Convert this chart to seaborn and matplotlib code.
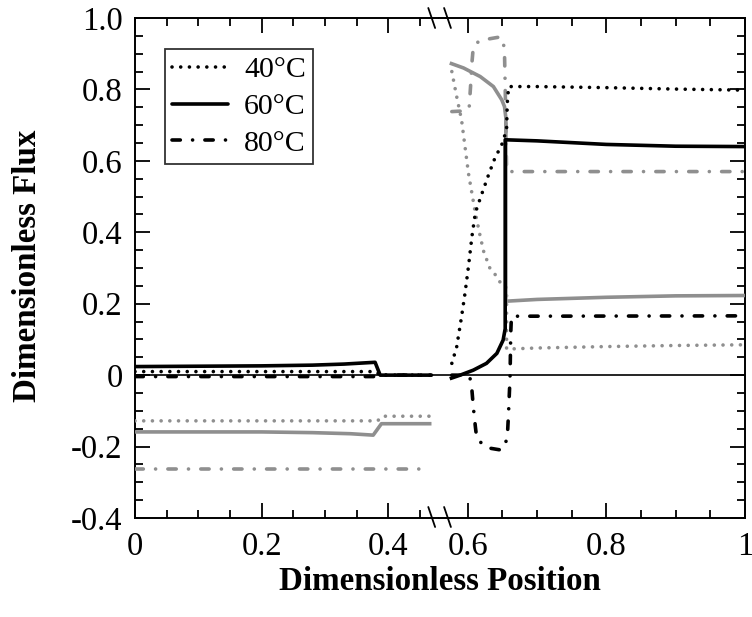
import numpy as np
import pandas as pd
import matplotlib
matplotlib.use("Agg")
import matplotlib.pyplot as plt
from matplotlib.ticker import MultipleLocator, FixedLocator, FixedFormatter
from matplotlib.lines import Line2D
import seaborn as sns

# ---------------- data ----------------
temps = ["40°C", "60°C", "80°C"]

# left segment (0 .. 0.47)
L40_black_x = [0.0, 0.380, 0.387, 0.468]
L40_black_y = [0.010, 0.010, 0.0, 0.0]
L60_black_x = [0.0, 0.10, 0.20, 0.28, 0.33, 0.379, 0.387, 0.468]
L60_black_y = [0.024, 0.025, 0.026, 0.028, 0.031, 0.036, 0.0, 0.0]
L80_black_x = [0.0, 0.380, 0.387, 0.468]
L80_black_y = [-0.004, -0.004, 0.0, 0.0]

L40_gray_x = [0.0, 0.383, 0.390, 0.468]
L40_gray_y = [-0.128, -0.128, -0.115, -0.115]
L60_gray_x = [0.0, 0.20, 0.28, 0.34, 0.376, 0.389, 0.468]
L60_gray_y = [-0.159, -0.159, -0.161, -0.164, -0.168, -0.136, -0.136]
L80_gray_x = [0.0, 0.468]
L80_gray_y = [-0.262, -0.262]

# right segment (0.56 .. 1)
R40_black_x = [0.577, 0.584, 0.591, 0.596, 0.601, 0.606, 0.611, 0.618, 0.630, 0.639,
               0.649, 0.656, 0.657, 0.659, 0.70, 0.80, 0.90, 1.0]
R40_black_y = [0.033, 0.079, 0.163, 0.229, 0.304, 0.388, 0.455, 0.495, 0.561, 0.607,
               0.645, 0.687, 0.762, 0.808, 0.808, 0.805, 0.801, 0.798]
R60_black_x = [0.574, 0.589, 0.608, 0.627, 0.642, 0.651, 0.654, 0.654, 0.70, 0.75,
               0.80, 0.90, 1.0]
R60_black_y = [-0.010, 0.0, 0.014, 0.033, 0.061, 0.098, 0.13, 0.659, 0.656, 0.651,
               0.646, 0.641, 0.640]
R80_black_x = [0.577, 0.600, 0.603, 0.606, 0.608, 0.611, 0.613, 0.627, 0.649, 0.657,
               0.659, 0.661, 0.662, 0.663, 1.0]
R80_black_y = [0.0, 0.0, -0.005, -0.042, -0.089, -0.145, -0.178, -0.203, -0.210, -0.178,
               -0.098, -0.005, 0.117, 0.165, 0.166]

R40_gray_x = [0.577, 0.584, 0.591, 0.596, 0.601, 0.606, 0.611, 0.613, 0.618, 0.623,
              0.632, 0.642, 0.649, 0.656, 0.656, 0.70, 0.80, 0.90, 1.0]
R40_gray_y = [0.850, 0.780, 0.715, 0.640, 0.565, 0.509, 0.453, 0.435, 0.388, 0.346,
              0.299, 0.276, 0.252, 0.245, 0.073, 0.076, 0.080, 0.083, 0.085]
R60_gray_x = [0.574, 0.594, 0.618, 0.637, 0.649, 0.653, 0.655, 0.655, 0.70, 0.80,
              0.90, 1.0]
R60_gray_y = [0.874, 0.860, 0.836, 0.808, 0.771, 0.752, 0.72, 0.207, 0.212, 0.218,
              0.222, 0.223]
R80_gray_x = [0.577, 0.598, 0.602, 0.604, 0.606, 0.608, 0.615, 0.623, 0.635, 0.647,
              0.651, 0.653, 0.654, 0.656, 0.70, 0.80, 0.90, 1.0]
R80_gray_y = [0.738, 0.740, 0.748, 0.808, 0.874, 0.920, 0.933, 0.939, 0.943, 0.947,
              0.939, 0.902, 0.808, 0.570, 0.570, 0.570, 0.570, 0.570]

xticks_left = [0.0, 0.2, 0.4]
xticks_left_labels = ["0", "0.2", "0.4"]
xticks_right = [0.6, 0.8, 1.0]
xticks_right_labels = ["0.6", "0.8", "1"]
yticks = [-0.4, -0.2, 0.0, 0.2, 0.4, 0.6, 0.8, 1.0]
yticks_labels = ["-0.4", "-0.2", "0", "0.2", "0.4", "0.6", "0.8", "1.0"]

# ---------------- style ----------------
sns.set_style("ticks")
plt.rcParams["font.family"] = ["Liberation Serif", "DejaVu Serif"]
plt.rcParams.update({
    "axes.linewidth": 1.4,
    "text.color": "black",
    "axes.labelcolor": "black",
    "axes.edgecolor": "black",
    "xtick.color": "black",
    "ytick.color": "black",
})

W, H = 752, 617
fig = plt.figure(figsize=(W / 100, H / 100), dpi=100)

px_left, px_break, px_right = 135, 439, 745
px_top, px_bottom = 18, 518
fy0 = (H - px_bottom) / H
fh = (px_bottom - px_top) / H
ax1 = fig.add_axes([px_left / W, fy0, (px_break - px_left) / W, fh])
ax2 = fig.add_axes([px_break / W, fy0, (px_right - px_break) / W, fh], sharey=ax1)

GRAY = "#8f8f8f"
LW = 2.6
DOT = (0, (0.01, 2.4))
DASHDOT = (0, (2.3, 3.4, 0.01, 3.4))
styles = {"40°C": DOT, "60°C": "-", "80°C": DASHDOT}

left_black = {"40°C": (L40_black_x, L40_black_y), "60°C": (L60_black_x, L60_black_y),
              "80°C": (L80_black_x, L80_black_y)}
left_gray = {"40°C": (L40_gray_x, L40_gray_y), "60°C": (L60_gray_x, L60_gray_y),
             "80°C": (L80_gray_x, L80_gray_y)}
right_black = {"40°C": (R40_black_x, R40_black_y), "60°C": (R60_black_x, R60_black_y),
               "80°C": (R80_black_x, R80_black_y)}
right_gray = {"40°C": (R40_gray_x, R40_gray_y), "60°C": (R60_gray_x, R60_gray_y),
              "80°C": (R80_gray_x, R80_gray_y)}

for ax in (ax1, ax2):
    ax.axhline(0, color="black", lw=1.2, zorder=1)

def draw(ax, series, color, labelled):
    for t in temps:
        xs, ys = series[t]
        df = pd.DataFrame({"x": xs, "y": ys})
        sns.lineplot(data=df, x="x", y="y", ax=ax, color=color, lw=LW,
                     linestyle=styles[t], dash_capstyle="round",
                     solid_capstyle="butt", sort=False, estimator=None,
                     label=(t if labelled else None), legend=False, zorder=3)

draw(ax1, left_gray, GRAY, False)
draw(ax1, left_black, "black", True)
draw(ax2, right_gray, GRAY, False)
draw(ax2, right_black, "black", False)

ax1.set_xlim(0.0, (px_break - px_left) / 633.5)
ax2.set_xlim(0.6 - (467.7 - px_break) / 691.5, 1.0)
ax1.set_ylim(-0.4, 1.0)

TICK_FS = 23.5
for ax in (ax1, ax2):
    ax.set_xlabel("")
    ax.set_ylabel("")
    ax.xaxis.set_minor_locator(MultipleLocator(0.05))
    ax.yaxis.set_minor_locator(MultipleLocator(0.05))
    ax.tick_params(which="both", direction="in", width=1.3, labelsize=TICK_FS,
                   top=True, bottom=True, colors="black")
    ax.tick_params(which="major", length=11)
    ax.tick_params(which="minor", length=5.5)

ax1.xaxis.set_major_locator(FixedLocator(xticks_left))
ax1.xaxis.set_major_formatter(FixedFormatter(xticks_left_labels))
ax2.xaxis.set_major_locator(FixedLocator(xticks_right))
ax2.xaxis.set_major_formatter(FixedFormatter(xticks_right_labels))
ax1.yaxis.set_major_locator(FixedLocator(yticks))
ax1.yaxis.set_major_formatter(FixedFormatter(yticks_labels))

ax1.tick_params(axis="y", which="both", left=True, right=False, pad=9)
ax1.tick_params(axis="x", which="both", pad=9.5)
ax2.tick_params(axis="y", which="both", left=False, right=True, labelleft=False,
                labelright=False)
ax2.tick_params(axis="x", which="both", pad=9.5)
ax1.spines["right"].set_visible(False)
ax2.spines["left"].set_visible(False)
for ax in (ax1, ax2):
    for s in ax.spines.values():
        s.set_linewidth(1.4)
        s.set_color("black")

# break marks on the x spines
for cx in (431.7, 447.5):
    for cy in (px_top, px_bottom - 1):
        fig.add_artist(Line2D([(cx - 3.4) / W, (cx + 3.4) / W],
                              [1 - (cy - 10) / H, 1 - (cy + 10) / H],
                              color="black", lw=1.3, transform=fig.transFigure))

handles = [Line2D([], [], color="black", lw=LW, linestyle=styles[t],
                  dash_capstyle="round") for t in temps]
leg = ax1.legend(handles, temps, loc="upper left",
                 bbox_to_anchor=(165 / W, 1 - 49 / H), bbox_transform=fig.transFigure,
                 borderaxespad=0, frameon=True, fancybox=False, fontsize=21.5,
                 handlelength=1.85, handletextpad=0.55, labelspacing=0.33,
                 borderpad=0.25)
leg.get_frame().set_edgecolor("black")
leg.get_frame().set_linewidth(1.3)
for txt in leg.get_texts():
    txt.set_color("black")

fig.text(440 / W, 1 - 582 / H, "Dimensionless Position", ha="center", va="center",
         fontsize=23.8, fontweight="bold", color="black")
fig.text(28 / W, 1 - 266 / H, "Dimensionless Flux", ha="center", va="center",
         rotation=90, fontsize=23.8, fontweight="bold", color="black")

fig.savefig("out.png", dpi=100)
